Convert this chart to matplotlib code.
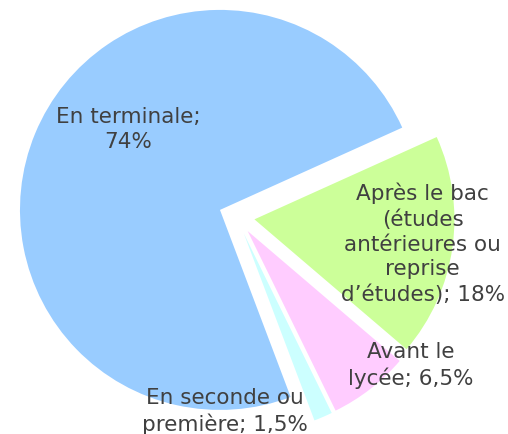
import matplotlib
matplotlib.use("Agg")
import matplotlib.pyplot as plt

# share of students by moment of choice
labels = ["En terminale;\n74%",
          "Après le bac\n(études\nantérieures ou\nreprise\nd’études); 18%",
          "Avant le\nlycée; 6,5%",
          "En seconde ou\npremière; 1,5%"]
shares = [74, 18, 6.5, 1.5]
colors = ["#99CCFF", "#CCFF99", "#FFCCFF", "#CCFFFF"]
explode = [0.09, 0.09, 0.09, 0.09]
# label centres, in radius units from the pie centre
label_pos = [(-0.54, 0.44), (0.93, -0.13), (0.87, -0.74), (-0.06, -0.97)]

plt.rcParams['font.family'] = ['DejaVu Sans']

fig = plt.figure(figsize=(5.08, 4.35), dpi=100)
ax = fig.add_axes([0, 0, 1, 1])

ax.pie(shares, colors=colors, explode=explode, startangle=-69.3,
       counterclock=False, radius=1.0,
       wedgeprops=dict(linewidth=0))

for text, (x, y) in zip(labels, label_pos):
    ax.text(x, y, text, ha="center", va="center", multialignment="center",
            fontsize=15.5, color="#404040", linespacing=1.3)

# 200 px per radius unit, pie centre at (236.6, 217.8) px from top-left
ax.set_xlim(-236.6 / 200, (508 - 236.6) / 200)
ax.set_ylim(-(435 - 217.8) / 200, 217.8 / 200)
ax.set_aspect("auto")
ax.axis("off")

fig.savefig("out.png", dpi=100)
